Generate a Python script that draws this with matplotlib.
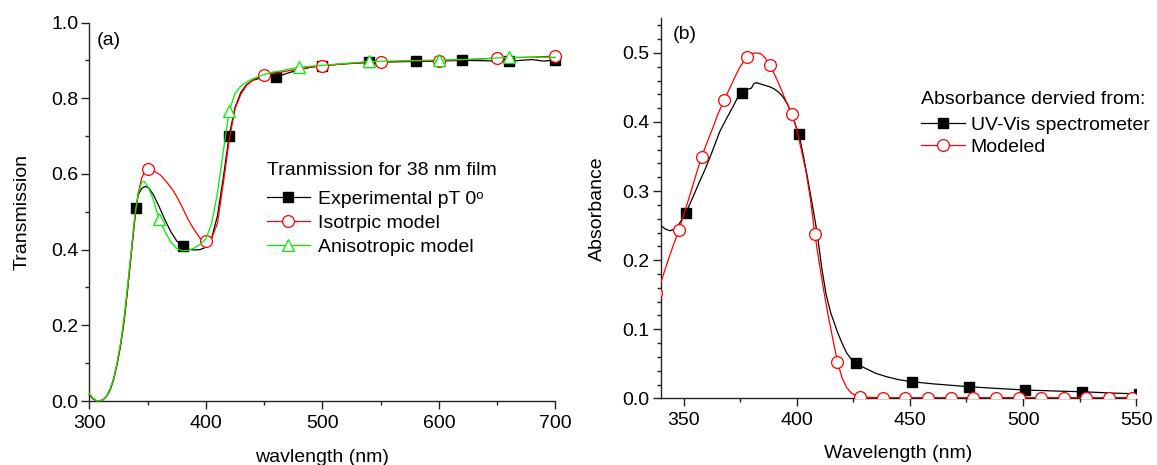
import matplotlib
matplotlib.use("Agg")
import matplotlib.pyplot as plt
from matplotlib.ticker import MultipleLocator

plt.rcParams['font.family'] = ['Liberation Sans', 'DejaVu Sans']

# ---- (a) transmission of the 38 nm film ----
wl_exp = [300, 303, 306, 309, 312, 315, 318, 321, 324, 327, 330, 333, 336, 339, 340,
          342, 345, 348, 351, 355, 360, 365, 370, 375, 380, 385, 390, 395, 400, 405,
          410, 415, 420, 425, 430, 435, 440, 450, 460, 470, 480, 490, 500, 520, 540,
          560, 580, 600, 620, 640, 660, 670, 680, 690, 700]
t_exp = [0.016, 0.006, 0.001, 0.0, 0.004, 0.013, 0.030, 0.058, 0.100, 0.150, 0.215,
         0.300, 0.390, 0.480, 0.510, 0.545, 0.562, 0.567, 0.563, 0.545, 0.513, 0.478,
         0.447, 0.423, 0.410, 0.401, 0.399, 0.400, 0.406, 0.430, 0.490, 0.590, 0.700,
         0.775, 0.815, 0.836, 0.847, 0.856, 0.856, 0.866, 0.875, 0.882, 0.886, 0.891,
         0.895, 0.896, 0.897, 0.898, 0.900, 0.899, 0.897, 0.900, 0.902, 0.898, 0.901]
mk_exp = [340, 380, 420, 460, 500, 540, 580, 620, 660, 700]

wl_iso = [300, 303, 306, 309, 312, 315, 318, 321, 324, 327, 330, 333, 336, 339, 342,
          345, 348, 350, 353, 357, 361, 366, 372, 376, 381, 385, 390, 395, 400, 405,
          410, 415, 420, 425, 430, 435, 440, 445, 450, 460, 470, 480, 490, 500, 520,
          550, 575, 600, 625, 650, 675, 700]
t_iso = [0.018, 0.007, 0.001, 0.0, 0.004, 0.014, 0.032, 0.060, 0.100, 0.152, 0.215,
         0.300, 0.390, 0.480, 0.550, 0.590, 0.608, 0.613, 0.612, 0.605, 0.597, 0.580,
         0.556, 0.535, 0.504, 0.478, 0.453, 0.430, 0.422, 0.430, 0.470, 0.575, 0.688,
         0.772, 0.810, 0.834, 0.847, 0.855, 0.861, 0.866, 0.872, 0.877, 0.882, 0.886,
         0.891, 0.896, 0.898, 0.899, 0.902, 0.906, 0.908, 0.911]
mk_iso = [350, 400, 450, 500, 550, 600, 650, 700]

wl_ani = [300, 303, 306, 309, 312, 315, 318, 321, 324, 327, 330, 333, 336, 339, 342,
          345, 347, 350, 354, 357, 360, 365, 370, 375, 380, 385, 390, 395, 400, 405,
          410, 415, 420, 425, 430, 435, 440, 450, 460, 470, 480, 500, 520, 540, 570,
          600, 630, 660, 700]
t_ani = [0.020, 0.008, 0.001, 0.0, 0.004, 0.014, 0.033, 0.062, 0.105, 0.158, 0.225,
         0.310, 0.400, 0.490, 0.550, 0.578, 0.580, 0.568, 0.540, 0.510, 0.480, 0.447,
         0.420, 0.403, 0.397, 0.398, 0.404, 0.414, 0.428, 0.470, 0.550, 0.660, 0.766,
         0.812, 0.832, 0.843, 0.851, 0.863, 0.870, 0.876, 0.882, 0.887, 0.892, 0.897,
         0.899, 0.901, 0.903, 0.908, 0.908]
mk_ani = [360, 420, 480, 540, 600, 660]

# ---- (b) absorbance ----
wl_uv = [340, 342, 344, 346, 348, 351, 354, 357, 360, 363, 366, 369, 372, 374, 376,
         378, 380, 381, 382, 384, 386, 388, 390, 392, 394, 396, 398, 400, 401, 403,
         405, 407, 409, 411, 413, 415, 418, 420, 422, 424, 426, 430, 435, 440, 445,
         451, 460, 476, 490, 501, 515, 526, 540, 551]
a_uv = [0.250, 0.245, 0.2425, 0.245, 0.252, 0.268, 0.290, 0.313, 0.335, 0.360, 0.386,
        0.405, 0.423, 0.436, 0.442, 0.447, 0.449, 0.455, 0.457, 0.455, 0.453, 0.451,
        0.448, 0.443, 0.436, 0.425, 0.410, 0.390, 0.382, 0.350, 0.315, 0.278, 0.240,
        0.190, 0.150, 0.124, 0.096, 0.080, 0.066, 0.057, 0.0506, 0.044, 0.036, 0.031,
        0.027, 0.024, 0.021, 0.0168, 0.014, 0.012, 0.0105, 0.0095, 0.0075, 0.0065]
mk_uv = [351, 376, 401, 426, 451, 476, 501, 526, 551]

wl_mod = [338, 340, 343, 345, 348, 350, 353, 355, 358, 360, 363, 365, 368, 370, 373,
          375, 378, 380, 382, 384, 386, 388, 390, 392, 394, 396, 398, 400, 402, 404,
          406, 408, 410, 412, 414, 416, 418, 420, 422, 424, 426, 428, 438, 448, 458,
          468, 478, 488, 498, 508, 518, 528, 538, 548]
a_mod = [0.152, 0.168, 0.198, 0.217, 0.244, 0.265, 0.296, 0.318, 0.350, 0.367, 0.392,
         0.410, 0.432, 0.446, 0.467, 0.480, 0.494, 0.499, 0.500, 0.499, 0.493, 0.483,
         0.470, 0.456, 0.440, 0.425, 0.411, 0.390, 0.360, 0.330, 0.290, 0.238, 0.195,
         0.155, 0.118, 0.085, 0.053, 0.030, 0.016, 0.008, 0.004, 0.002, 0.001, 0.001,
         0.001, 0.001, 0.001, 0.001, 0.001, 0.001, 0.001, 0.001, 0.001, 0.001]
mk_mod = [338, 348, 358, 368, 378, 388, 398, 408, 418, 428, 438, 448, 458, 468, 478,
          488, 498, 508, 518, 528, 538, 548]


def mark_idx(xs, marks):
    return [xs.index(m) for m in marks]


FS = 14
W, H = 1157, 465

fig = plt.figure(figsize=(W / 100, H / 100), dpi=100)
ax1 = fig.add_axes([0.0772, 0.1376, 0.4028, 0.8140])
ax2 = fig.add_axes([0.5712, 0.1434, 0.4109, 0.8172])

for ax in (ax1, ax2):
    ax.spines['top'].set_visible(False)
    ax.spines['right'].set_visible(False)
    for s in ('left', 'bottom'):
        ax.spines[s].set_linewidth(1.0)
        ax.spines[s].set_color('#222222')
    ax.tick_params(which='major', direction='out', length=5.5, width=1.0,
                   labelsize=FS, pad=2.5, color='#222222')
    ax.tick_params(which='minor', direction='out', length=3, width=1.0, color='#222222')
    ax.tick_params(axis='x', which='major', pad=4.5)

# panel (a)
ax1.plot(wl_exp, t_exp, color='black', lw=0.9, marker='s', ms=7.5, mfc='black',
         mec='black', markevery=mark_idx(wl_exp, mk_exp), clip_on=False,
         label='Experimental pT 0\u1d52', zorder=3)
ax1.plot(wl_iso, t_iso, color='#ff0000', lw=0.9, marker='o', ms=8.5, mfc='white',
         mec='#ff0000', mew=0.9, markevery=mark_idx(wl_iso, mk_iso), clip_on=False,
         label='Isotrpic model', zorder=4)
ax1.plot(wl_ani, t_ani, color='#00ee00', lw=0.9, marker='^', ms=9, mfc='white',
         mec='#00ee00', mew=0.9, markevery=mark_idx(wl_ani, mk_ani), clip_on=False,
         label='Anisotropic model', zorder=5)
ax1.set_xlim(300, 700)
ax1.set_ylim(0.0, 1.0)
ax1.xaxis.set_major_locator(MultipleLocator(100))
ax1.xaxis.set_minor_locator(MultipleLocator(50))
ax1.yaxis.set_major_locator(MultipleLocator(0.2))
ax1.yaxis.set_minor_locator(MultipleLocator(0.1))
ax1.yaxis.set_major_formatter(plt.FormatStrFormatter('%.1f'))
ax1.set_xlabel('wavlength (nm)', fontsize=FS, labelpad=12.5)
ax1.set_ylabel('Transmission', fontsize=FS, labelpad=15)
ax1.text(0.017, 0.975, '(a)', transform=ax1.transAxes, fontsize=FS, va='top', ha='left')
fig.text(267 / W, 1 - 175 / H, 'Tranmission for 38 nm film', fontsize=FS,
         ha='left', va='baseline')
ax1.legend(loc='upper left', bbox_to_anchor=(267 / W, 1 - 190 / H),
           bbox_transform=fig.transFigure, frameon=False, fontsize=FS,
           borderpad=0, borderaxespad=0, handlelength=2.2, handletextpad=0.42,
           labelspacing=0.34)

# panel (b)
ax2.plot(wl_uv, a_uv, color='black', lw=0.9, marker='s', ms=7.5, mfc='black',
         mec='black', markevery=mark_idx(wl_uv, mk_uv), label='UV-Vis spectrometer',
         zorder=3)
ax2.plot(wl_mod, a_mod, color='#ff0000', lw=0.9, marker='o', ms=8.5, mfc='white',
         mec='#ff0000', mew=0.9, markevery=mark_idx(wl_mod, mk_mod), label='Modeled',
         zorder=4)
ax2.set_xlim(340, 550)
ax2.set_ylim(0.0, 0.55)
ax2.xaxis.set_major_locator(MultipleLocator(50))
ax2.xaxis.set_minor_locator(MultipleLocator(25))
ax2.yaxis.set_major_locator(MultipleLocator(0.1))
ax2.yaxis.set_minor_locator(MultipleLocator(0.02))
ax2.yaxis.set_major_formatter(plt.FormatStrFormatter('%.1f'))
ax2.set_xlabel('Wavelength (nm)', fontsize=FS, labelpad=11.5)
ax2.set_ylabel('Absorbance', fontsize=FS, labelpad=12)
ax2.text(0.025, 0.98, '(b)', transform=ax2.transAxes, fontsize=FS, va='top', ha='left')
fig.text(921 / W, 1 - 104 / H, 'Absorbance dervied from:', fontsize=FS,
         ha='left', va='baseline')
ax2.legend(loc='upper left', bbox_to_anchor=(921 / W, 1 - 116 / H),
           bbox_transform=fig.transFigure, frameon=False, fontsize=FS,
           borderpad=0, borderaxespad=0, handlelength=2.25, handletextpad=0.3,
           labelspacing=0.24)

fig.savefig('out.png', dpi=100)
